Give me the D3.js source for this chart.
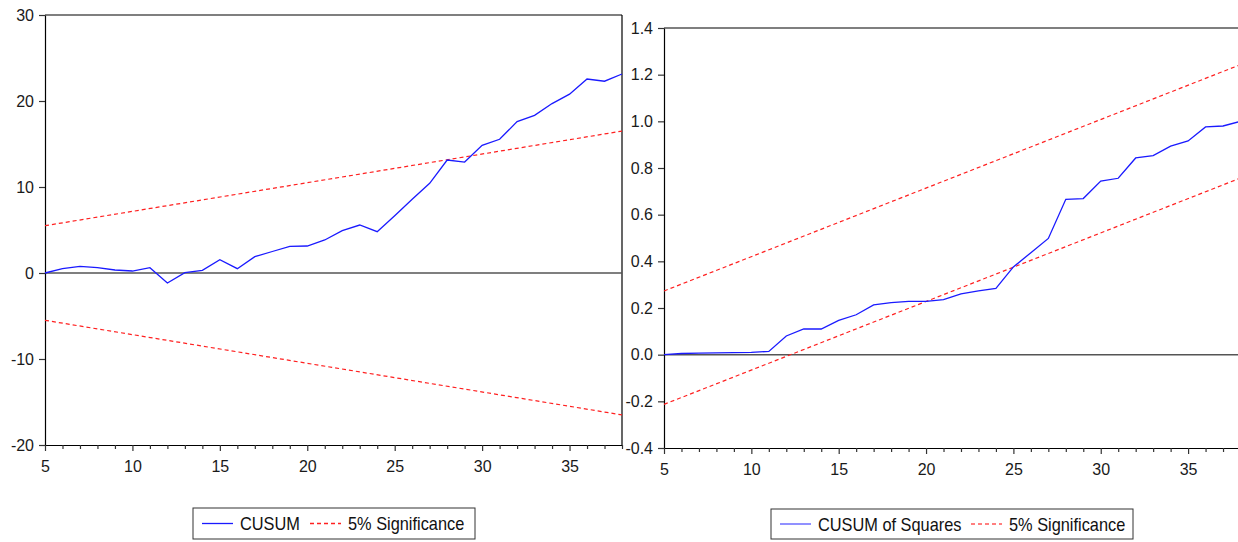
<!DOCTYPE html>
<html>
<head>
<meta charset="utf-8">
<script src="https://cdn.jsdelivr.net/npm/d3@7"></script>
<style>
  body { margin: 0; background: #fff; }
  svg { display: block; font-family: "Liberation Sans", Arial, sans-serif; }
</style>
</head>
<body>
<div id="canvas"></div>
<script>
// observation index on the x axis
const obs = d3.range(5, 39);
const xTicks = [5, 10, 15, 20, 25, 30, 35];

// CUSUM panel
const cusum = [0.0, 0.5, 0.78, 0.62, 0.35, 0.23, 0.62, -1.16, 0.04, 0.3, 1.55, 0.5, 1.9, 2.5,
  3.1, 3.14, 3.84, 4.92, 5.58, 4.8, 6.66, 8.57, 10.43, 13.14, 12.9, 14.85, 15.55, 17.6,
  18.33, 19.7, 20.8, 22.56, 22.3, 23.14];
const cusumUpper = [[5, 5.5], [38, 16.5]];
const cusumLower = [[5, -5.5], [38, -16.5]];
const cusumTicks = [-20, -10, 0, 10, 20, 30];

// CUSUM of squares panel
const cusumSq = [0.0, 0.005, 0.007, 0.008, 0.009, 0.01, 0.014, 0.08, 0.11, 0.11, 0.147, 0.171,
  0.213, 0.223, 0.228, 0.228, 0.236, 0.261, 0.273, 0.284, 0.376, 0.437, 0.498, 0.666, 0.669,
  0.744, 0.756, 0.843, 0.853, 0.894, 0.916, 0.976, 0.98, 1.0];
const sqUpper = [[5, 0.273], [38, 1.243]];
const sqLower = [[5, -0.213], [38, 0.757]];
const sqTicks = [-0.4, -0.2, 0.0, 0.2, 0.4, 0.6, 0.8, 1.0, 1.2, 1.4];

const width = 1238, height = 542;
const svg = d3.select('#canvas')
  .append('svg')
    .attr('width', width)
    .attr('height', height);

function panel(opt) {
  const x = d3.scaleLinear().domain([5, 38]).range([opt.left, opt.right]);
  const y = d3.scaleLinear().domain(opt.yDomain).range([opt.bottom, opt.top]);
  const g = svg.append('g');

  // frame (top + right)
  g.append('line')
    .attr('x1', opt.left).attr('x2', opt.right)
    .attr('y1', opt.top).attr('y2', opt.top)
    .attr('stroke', '#000').attr('stroke-width', 1.2);
  g.append('line')
    .attr('x1', opt.right).attr('x2', opt.right)
    .attr('y1', opt.top).attr('y2', opt.bottom)
    .attr('stroke', '#000').attr('stroke-width', 1.2);

  // zero line
  g.append('line')
    .attr('x1', opt.left).attr('x2', opt.right)
    .attr('y1', y(0)).attr('y2', y(0))
    .attr('stroke', '#555').attr('stroke-width', 1.5);

  // y axis
  const yAxis = g.append('g')
    .attr('transform', `translate(${opt.left},0)`)
    .call(d3.axisLeft(y).tickValues(opt.yTicks).tickFormat(opt.yFmt)
      .tickSize(6).tickSizeOuter(0).tickPadding(5));
  // x axis, minor ticks at every observation
  const xAxis = g.append('g')
    .attr('transform', `translate(0,${opt.bottom})`)
    .call(d3.axisBottom(x).tickValues(obs)
      .tickFormat(d => xTicks.includes(d) ? d : '')
      .tickSize(6).tickSizeOuter(0).tickPadding(10));
  xAxis.selectAll('.tick line').attr('y2', d => xTicks.includes(d) ? 6 : 4);
  [yAxis, xAxis].forEach(a => {
    a.select('.domain').attr('stroke', '#000').attr('stroke-width', 1.2);
    a.selectAll('.tick line').attr('stroke', '#333').attr('stroke-width', 1.2);
    a.selectAll('text').attr('font-size', 16).attr('fill', '#1a1a1a')
      .attr('font-family', '"Liberation Sans", Arial, sans-serif');
  });

  const line = d3.line().x(d => x(d[0])).y(d => y(d[1]));
  [opt.upper, opt.lower].forEach(b => {
    g.append('path').datum(b)
      .attr('d', line)
      .attr('fill', 'none')
      .attr('stroke', '#ff2020')
      .attr('stroke-width', 1.2)
      .attr('stroke-dasharray', '4,3');
  });
  g.append('path').datum(obs.map((t, i) => [t, opt.values[i]]))
    .attr('d', line)
    .attr('fill', 'none')
    .attr('stroke', '#1a1aff')
    .attr('stroke-width', 1.3);
}

panel({
  left: 45, right: 622, top: 15, bottom: 445,
  yDomain: [-20, 30], yTicks: cusumTicks, yFmt: d => String(d),
  values: cusum, upper: cusumUpper, lower: cusumLower
});
panel({
  left: 664, right: 1240.5, top: 28, bottom: 448,
  yDomain: [-0.4, 1.4], yTicks: sqTicks, yFmt: d => d.toFixed(1).replace('-0.0', '0.0'),
  values: cusumSq, upper: sqUpper, lower: sqLower
});

function legend(box, items) {
  const g = svg.append('g');
  g.append('rect')
    .attr('x', box.x).attr('y', box.y)
    .attr('width', box.w).attr('height', box.h)
    .attr('fill', '#fff').attr('stroke', '#333').attr('stroke-width', 1);
  const cy = box.y + box.h / 2;
  items.forEach(it => {
    g.append('line')
      .attr('x1', it.x).attr('x2', it.x + 31)
      .attr('y1', cy).attr('y2', cy)
      .attr('stroke', it.color).attr('stroke-width', 1.3)
      .attr('stroke-dasharray', it.dash || null);
    const t = g.append('text')
      .attr('x', it.x + 38).attr('y', cy)
      .attr('dy', '0.36em')
      .attr('font-size', 19)
      .attr('fill', '#111')
      .text(it.label);
    const w = t.node().getComputedTextLength();
    t.attr('textLength', w * 0.86).attr('lengthAdjust', 'spacingAndGlyphs');
  });
}

legend({x: 193, y: 508, w: 282, h: 31}, [
  {x: 202, color: '#1a1aff', label: 'CUSUM'},
  {x: 310, color: '#ff2020', dash: '4,3', label: '5% Significance'}
]);
legend({x: 771, y: 509, w: 362, h: 30}, [
  {x: 780, color: '#5555ff', label: 'CUSUM of Squares'},
  {x: 971, color: '#ff5555', dash: '4,3', label: '5% Significance'}
]);
</script>
</body>
</html>
